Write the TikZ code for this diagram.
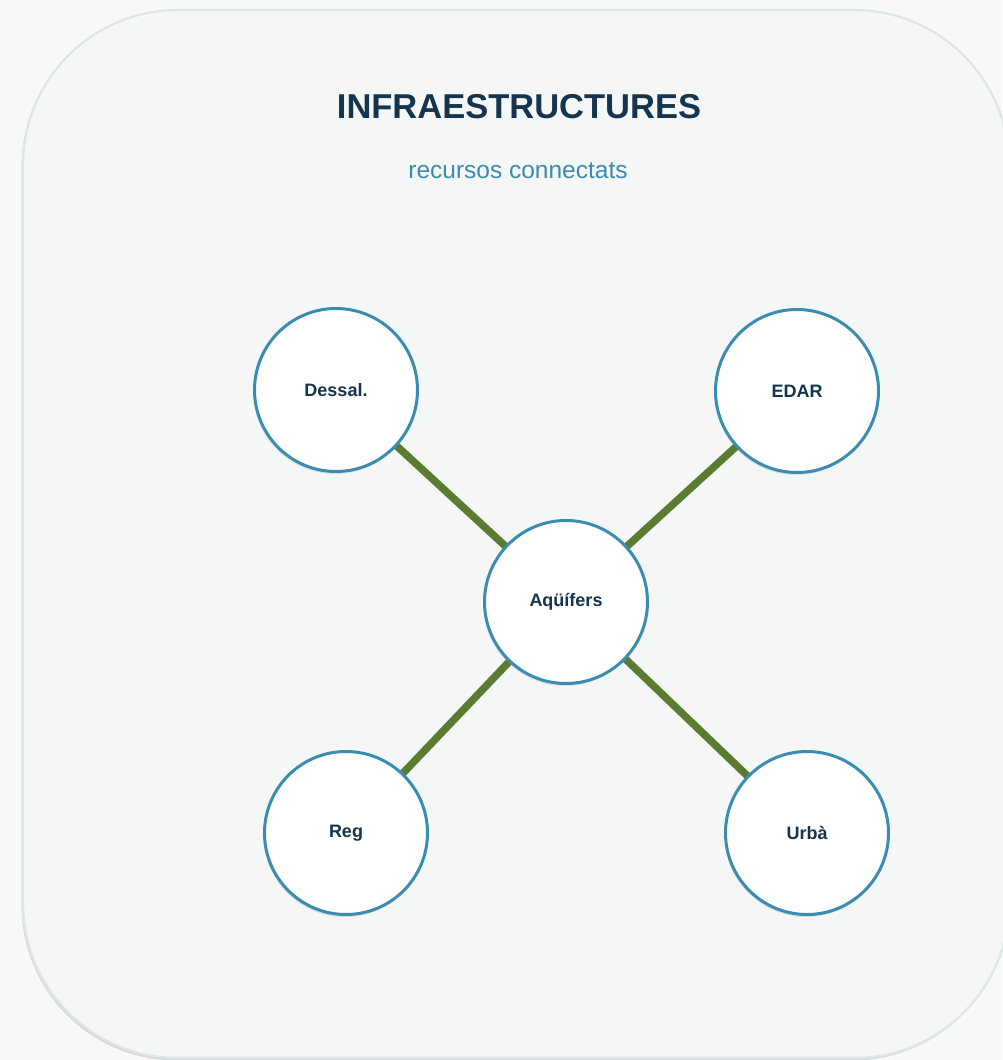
\documentclass[tikz,border=0pt]{standalone}
\usepackage{fontspec}
\setmainfont{Liberation Sans}
\usetikzlibrary{shadows}
\definecolor{navy}{HTML}{15344D}
\definecolor{rim}{HTML}{3A8DB0}
\definecolor{leaf}{HTML}{5B7B31}
\definecolor{paper}{HTML}{F5F7F7}
\definecolor{edge}{HTML}{DCE5E8}
\definecolor{page}{HTML}{F8F8F6}
\begin{document}
\begin{tikzpicture}[x=1pt,y=-1pt,%
% common options for the panel:
panel/.style = {draw=edge, line width=2.2pt, fill=paper, rounded corners=155pt,
            drop shadow={shadow xshift=-1.5pt, shadow yshift=-2.5pt, opacity=0.25}},
% common options for the circles:
ball/.style = {circle, draw=rim, line width=3pt, fill=white, minimum size=163pt,
            inner sep=0, text=navy, font=\bfseries\fontsize{18}{20}\selectfont,
            drop shadow={shadow xshift=-1pt, shadow yshift=-2.5pt, opacity=0.2}},
% common options for the links:
link/.style = {draw=leaf, line width=7.5pt}]
\useasboundingbox[fill=page] (0,0) rectangle (1002,1060);
\path[panel] (23,10) rectangle (1009,1058);
\node[text=navy, font=\bfseries\fontsize{34.5}{40}\selectfont] (title) at (519,107) {INFRAESTRUCTURES};
\node[text=rim, font=\fontsize{24.5}{28}\selectfont] (sub) at (518,171) {recursos connectats};
% links first, circles on top
\coordinate (c0) at (566,602);
\coordinate (c1) at (336,390);
\coordinate (c2) at (797,391);
\coordinate (c3) at (346,833);
\coordinate (c4) at (807,833);
\draw[link] (c0) -- (c1);
\draw[link] (c0) -- (c2);
\draw[link] (c0) -- (c3);
\draw[link] (c0) -- (c4);
\node[ball] (aqui) at (c0) {\raisebox{-2pt}{Aqüífers}};
\node[ball] (dessal) at (c1) {\raisebox{-2pt}{Dessal.}};
\node[ball] (edar) at (c2) {\raisebox{-2pt}{EDAR}};
\node[ball] (reg) at (c3) {\raisebox{-2pt}{Reg}};
\node[ball] (urba) at (c4) {\raisebox{-2pt}{Urbà}};
\end{tikzpicture}
\end{document}
